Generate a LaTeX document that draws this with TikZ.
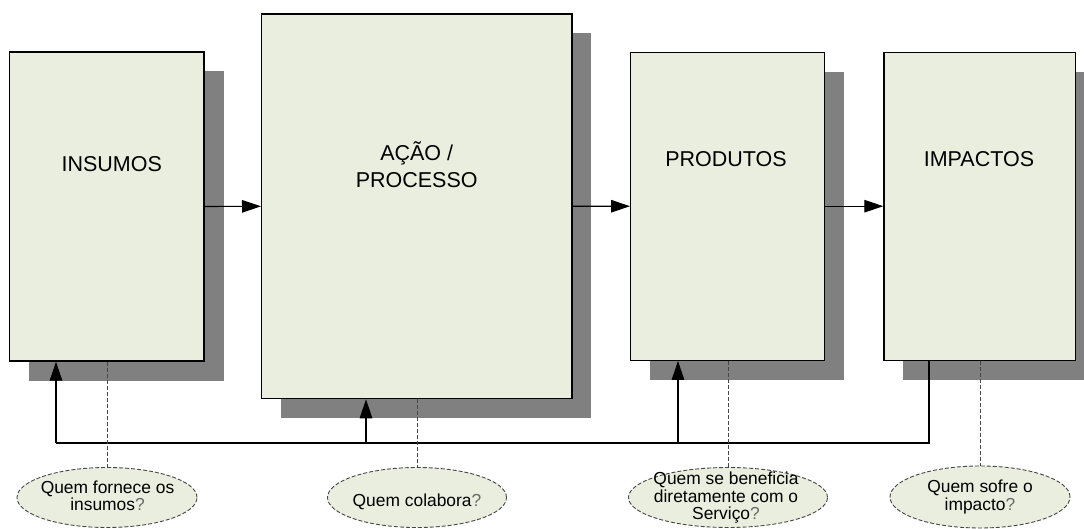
\documentclass[tikz,border=0pt]{standalone}
\usepackage{fontspec}
\setmainfont{Liberation Sans}
\usetikzlibrary{arrows.meta,shapes.geometric,shadows}
\definecolor{boxfill}{RGB}{234,238,222}
\definecolor{shadowgray}{RGB}{128,128,128}
\definecolor{dashgray}{RGB}{70,70,70}
\definecolor{qgray}{RGB}{105,105,105}
\newcommand{\qmark}{\textcolor{qgray}{?}}
\begin{document}
\begin{tikzpicture}[x=1pt,y=-1pt,
  stagebox/.style={draw=black, line width=1.3pt, fill=boxfill, inner sep=0pt,
     general shadow={fill=shadowgray, shadow xshift=19.5pt, shadow yshift=-19.5pt}},
  stagelabel/.style={font=\fontsize{21.5}{26.7}\selectfont, align=center, inner sep=0pt},
  question/.style={ellipse, draw=dashgray, dash pattern=on 4pt off 2pt, line width=0.9pt, fill=boxfill, inner sep=0pt},
  qtext/.style={font=\fontsize{17.4}{17.5}\selectfont, align=center, inner sep=0pt},
  flow/.style={line width=1.1pt, -{Triangle[length=19pt,width=12.5pt]}},
  plainline/.style={line width=1.1pt},
  link/.style={draw=dashgray, line width=0.9pt, dash pattern=on 4pt off 2pt}
]
\useasboundingbox[fill=white] (0,0) rectangle (1084,529);

% stage boxes
\node[stagebox, minimum width=194.5pt, minimum height=309pt] (B1) at (106.8,206.5) {};
\node[stagebox, minimum width=310.3pt, minimum height=384.7pt] (B2) at (416.8,206.3) {};
\node[stagebox, minimum width=194pt, minimum height=308pt] (B3) at (727.7,206.2) {};
\node[stagebox, minimum width=191.7pt, minimum height=308pt] (B4) at (979.8,206.2) {};

% labels
\node[stagelabel] (L1) at (111.7,163.7) {INSUMOS};
\node[stagelabel] (L2) at (416.7,165) {AÇÃO /\\PROCESSO};
\node[stagelabel] (L3) at (726,159) {PRODUTOS};
\node[stagelabel] (L4) at (979,159) {IMPACTOS};

% main flow
\draw[flow] (B1.east) -- (B2.west);
\draw[flow] (B2.east) -- (B3.west);
\draw[flow] (B3.east) -- (B4.west);

% feedback loop
\coordinate (j1) at (56,443);
\coordinate (j2) at (366,443);
\coordinate (j3) at (678,443);
\coordinate (j4) at (929,443);
\draw[plainline] (B4.south -| j4) -- (j4) -- (j1);
\draw[flow] (j1) -- (j1 |- B1.south);
\draw[flow] (j2) -- (j2 |- B2.south);
\draw[flow] (j3) -- (j3 |- B3.south);

% question ellipses
\node[question, minimum width=180pt, minimum height=60pt] (E1) at (107,497.5) {};
\node[question, minimum width=179pt, minimum height=60pt] (E2) at (417,497.5) {};
\node[question, minimum width=199pt, minimum height=60pt] (E3) at (728,497.5) {};
\node[question, minimum width=180pt, minimum height=62pt] (E4) at (980,497) {};

\draw[link] (B1.south -| E1.north) -- (E1.north);
\draw[link] (B2.south -| E2.north) -- (E2.north);
\draw[link] (B3.south -| E3.north) -- (E3.north);
\draw[link] (B4.south -| E4.north) -- (E4.north);

\node[qtext] (T1) at (107.5,496) {Quem fornece os\\insumos\qmark};
\node[qtext] (T2) at (417,502) {Quem colabora\qmark};
\node[qtext] (T3) at (726,498) {Quem se beneficia\\diretamente com o\\Servi\c{c}o\qmark};
\node[qtext] (T4) at (980,497) {Quem sofre o\\impacto\qmark};
\end{tikzpicture}
\end{document}
